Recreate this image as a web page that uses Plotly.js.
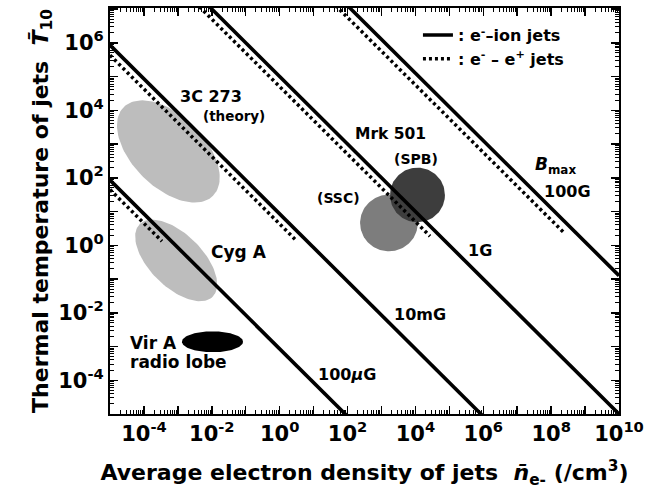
<!DOCTYPE html>
<html><head><meta charset="utf-8">
<script src="https://cdn.plot.ly/plotly-3.0.1.min.js"></script>
<style>html,body{margin:0;padding:0;background:#fff}</style>
</head><body><div id="chart" style="width:668px;height:489px"></div>
<script>
// Magnetic-field lines: log10(n_e * T10) = constant
const fieldLabels   = ['100μG', '10mG', '1G', '100G'];
const solidLogC     = [-3.07, 0.93, 5.0, 9.1];     // e- - ion jets
const dottedLogC    = [-3.35, 0.63, 4.7, 8.75];    // e- - e+ jets
const dottedEndLogN = [-3.47, 0.45, 4.43, 8.41];
const lineLogNRange = [-5, 10];

// Observed objects, ellipses in log-log space
const objNames  = ['3C 273', 'Cyg A', 'Vir A', 'Mrk 501 (SSC)', 'Mrk 501 (SPB)'];
const objLogN   = [-3.28, -3.05, -1.98, 3.22, 4.06];
const objLogT   = [2.78, -0.45, -2.86, 0.66, 1.49];
const objSemiA  = [1.86, 1.52, 0.90, 0.85, 0.81];
const objSemiB  = [1.06, 0.78, 0.31, 0.84, 0.81];
const objAngle  = [-45, -45, 0, 0, 0];
const objColor  = ['#bdbdbd', '#bdbdbd', '#000000', '#7d7d7d', '#3d3d3d'];

// Tick labels
const xTickExp  = [-5,-4,-3,-2,-1,0,1,2,3,4,5,6,7,8,9,10];
const xTickText = [' ','10<sup>-4</sup>',' ','10<sup>-2</sup>',' ','10<sup>0</sup>',' ','10<sup>2</sup>',' ','10<sup>4</sup>',' ','10<sup>6</sup>',' ','10<sup>8</sup>',' ','10<sup>10</sup>'];
const yTickExp  = [-5,-4,-3,-2,-1,0,1,2,3,4,5,6,7];
const yTickText = [' ','10<sup>-4</sup>',' ','10<sup>-2</sup>',' ','10<sup>0</sup>',' ','10<sup>2</sup>',' ','10<sup>4</sup>',' ','10<sup>6</sup>',' '];

const FONT = 'DejaVu Sans';
const traces = [];

// ellipses
for (let i = 0; i < objNames.length; i++) {
  const xs = [], ys = [];
  const phi = objAngle[i] * Math.PI / 180;
  for (let k = 0; k <= 120; k++) {
    const t = 2 * Math.PI * k / 120;
    const lx = objLogN[i] + objSemiA[i] * Math.cos(t) * Math.cos(phi) - objSemiB[i] * Math.sin(t) * Math.sin(phi);
    const ly = objLogT[i] + objSemiA[i] * Math.cos(t) * Math.sin(phi) + objSemiB[i] * Math.sin(t) * Math.cos(phi);
    xs.push(Math.pow(10, lx)); ys.push(Math.pow(10, ly));
  }
  traces.push({x: xs, y: ys, mode: 'lines', fill: 'toself', fillcolor: objColor[i],
    line: {width: 0, color: objColor[i]}, showlegend: false, hoverinfo: 'skip', name: objNames[i]});
}

// solid lines
for (let i = 0; i < fieldLabels.length; i++) {
  const xs = lineLogNRange.map(v => Math.pow(10, v));
  const ys = lineLogNRange.map(v => Math.pow(10, solidLogC[i] - v));
  traces.push({x: xs, y: ys, mode: 'lines', line: {color: '#000', width: 3.6},
    name: ': e<sup>-</sup>–ion jets', showlegend: i === 0, legendrank: 1, hoverinfo: 'skip'});
}
// dotted lines
for (let i = 0; i < fieldLabels.length; i++) {
  const ends = [lineLogNRange[0], dottedEndLogN[i]];
  const xs = ends.map(v => Math.pow(10, v));
  const ys = ends.map(v => Math.pow(10, dottedLogC[i] - v));
  traces.push({x: xs, y: ys, mode: 'lines', line: {color: '#000', width: 3.5, dash: '3px,3px'},
    name: ': e<sup>-</sup> – e<sup>+</sup> jets', showlegend: i === 0, legendrank: 2, hoverinfo: 'skip'});
}

function ann(text, lx, ly, size, anchor) {
  return {text: text, x: lx, y: ly, xref: 'x', yref: 'y', showarrow: false,
    xanchor: anchor || 'center', yanchor: 'middle',
    font: {family: FONT, size: size, weight: 'bold', color: '#000'}};
}

const annotations = [
  ann('3C 273', -2.02, 4.42, 16),
  ann('(theory)', -1.35, 3.83, 13.5),
  ann('Cyg A', -1.20, -0.20, 17),
  ann('Vir A', -4.47, -2.90, 17, 'left'),
  ann('radio lobe', -4.47, -3.46, 17, 'left'),
  ann('Mrk 501', 3.28, 3.30, 15.5),
  ann('(SPB)', 4.02, 2.56, 14),
  ann('(SSC)', 1.72, 1.40, 14),
  ann('<i>B</i><sub>max</sub>', 8.12, 2.36, 17),
  ann('100G', 8.47, 1.58, 16),
  ann('1G', 5.90, -0.17, 16),
  ann('10mG', 4.14, -2.04, 16),
  ann('100<i>μ</i>G', 1.98, -3.84, 16)
];

const axisCommon = {
  type: 'log', showgrid: false, zeroline: false, showline: true, linecolor: '#000', linewidth: 2,
  mirror: 'allticks', ticks: 'inside', ticklen: 8, tickwidth: 1.5, tickcolor: '#000',
  tickfont: {family: FONT, size: 21, weight: 'bold', color: '#000'},
  tickmode: 'array',
  minor: {tickmode: 'linear', dtick: 'D1', ticks: 'inside', ticklen: 4, tickwidth: 1, tickcolor: '#000', showgrid: false}
};

const layout = {
  width: 668, height: 489,
  margin: {l: 110, r: 49, t: 8, b: 75},
  paper_bgcolor: '#fff', plot_bgcolor: '#fff',
  showlegend: true,
  legend: {x: 0.605, y: 0.975, xanchor: 'left', yanchor: 'top', bgcolor: 'rgba(0,0,0,0)',
    font: {family: FONT, size: 16, weight: 'bold', color: '#000'}, tracegroupgap: 0, itemwidth: 30},
  xaxis: Object.assign({}, axisCommon, {
    range: [-5, 10],
    tickvals: xTickExp.map(e => Math.pow(10, e)), ticktext: xTickText,
    title: {text: 'Average electron density of jets\u00a0\u00a0<i>n̄</i><sub>e-</sub> (/cm<sup>3</sup>)',
      font: {family: FONT, size: 22, weight: 'bold', color: '#000'}}
  }),
  yaxis: Object.assign({}, axisCommon, {
    range: [-5, 7.03],
    tickvals: yTickExp.map(e => Math.pow(10, e)), ticktext: yTickText,
    title: {text: 'Thermal temperature of jets\u00a0\u00a0<i>T̄</i><sub>10</sub>',
      font: {family: FONT, size: 22, weight: 'bold', color: '#000'}}
  }),
  annotations: annotations
};

Plotly.newPlot('chart', traces, layout, {displayModeBar: false, staticPlot: true});
</script>
</body></html>
